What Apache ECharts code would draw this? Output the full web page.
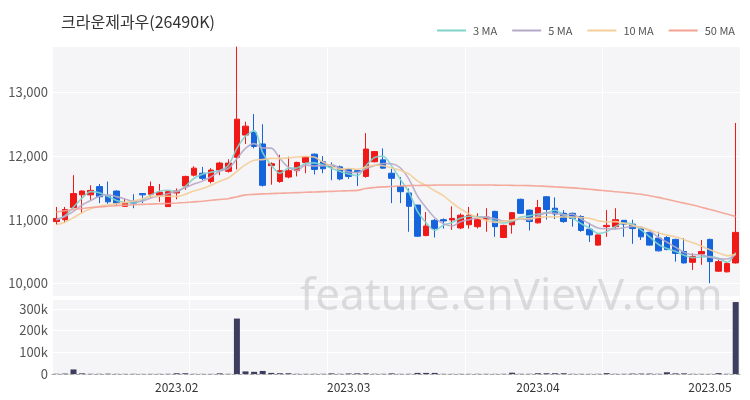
<!DOCTYPE html>
<html>
<head>
<meta charset="utf-8">
<script src="https://cdn.jsdelivr.net/npm/echarts@6/dist/echarts.min.js"></script>
<style>
html,body{margin:0;padding:0;background:#fff;}
#chart{width:750px;height:400px;}
</style>
</head>
<body>
<div id="chart"></div>
<script>
const titleText = '크라운제과우(26490K)';
const dates = [
'2023-01-10','2023-01-11','2023-01-12','2023-01-13','2023-01-16','2023-01-17','2023-01-18','2023-01-19','2023-01-20','2023-01-25',
'2023-01-26','2023-01-27','2023-01-30','2023-01-31','2023-02-01','2023-02-02','2023-02-03','2023-02-06','2023-02-07','2023-02-08',
'2023-02-09','2023-02-10','2023-02-13','2023-02-14','2023-02-15','2023-02-16','2023-02-17','2023-02-20','2023-02-21','2023-02-22',
'2023-02-23','2023-02-24','2023-02-27','2023-02-28','2023-03-02','2023-03-03','2023-03-06','2023-03-07','2023-03-08','2023-03-09',
'2023-03-10','2023-03-13','2023-03-14','2023-03-15','2023-03-16','2023-03-17','2023-03-20','2023-03-21','2023-03-22','2023-03-23',
'2023-03-24','2023-03-27','2023-03-28','2023-03-29','2023-03-30','2023-03-31','2023-04-03','2023-04-04','2023-04-05','2023-04-06',
'2023-04-07','2023-04-10','2023-04-11','2023-04-12','2023-04-13','2023-04-14','2023-04-17','2023-04-18','2023-04-19','2023-04-20',
'2023-04-21','2023-04-24','2023-04-25','2023-04-26','2023-04-27','2023-04-28','2023-05-02','2023-05-03','2023-05-04','2023-05-08'
];
const opens = [10970,11000,11190,11390,11390,11520,11370,11450,11210,11290,
 11410,11400,11380,11205,11420,11530,11700,11730,11600,11780,
 11760,11980,12330,12370,12190,11850,11600,11670,11770,11900,
 12030,11910,11850,11830,11790,11770,11680,11910,11940,11730,
 11520,11420,11230,10750,10990,11000,10995,10870,10920,10890,
 11010,11130,10720,10920,11320,11150,10950,11360,11180,11100,
 11100,11050,10850,10600,10890,10890,10990,10930,10860,10800,
 10710,10720,10690,10500,10330,10460,10690,10190,10180,10320];
const closes = [11020,11160,11410,11450,11460,11360,11280,11260,11270,11260,
 11390,11520,11430,11440,11450,11680,11810,11650,11780,11890,
 11890,12580,12470,12150,11540,11880,11770,11770,11900,11990,
 11790,11800,11830,11640,11680,11750,12110,12070,11810,11650,
 11440,11210,10740,10900,10860,10980,11020,11070,11070,11000,
 11040,10890,10910,11110,11100,10970,11190,11160,11090,10970,
 11020,10830,10760,10760,10910,11000,10930,10860,10730,10600,
 10510,10530,10470,10320,10420,10500,10340,10340,10310,10800];
const lows = [10920,10950,11180,11100,11310,11260,11250,11220,11200,11180,
 11260,11340,11280,11200,11320,11470,11680,11620,11570,11700,
 11740,11790,12190,12120,11520,11550,11580,11650,11680,11730,
 11710,11730,11620,11620,11640,11530,11660,11900,11800,11260,
 11260,10810,10730,10740,10720,10860,10840,10850,10860,10860,
 10810,10730,10710,10780,11090,10830,10940,11000,11010,10950,
 10890,10810,10650,10590,10730,10860,10730,10620,10680,10590,
 10500,10520,10340,10310,10210,10290,10000,10180,10170,10310];
const highs = [11200,11200,11700,11460,11540,11560,11600,11460,11330,11400,
 11415,11600,11560,11450,11490,11690,11840,11830,11810,11910,
 11950,13720,12540,12660,12500,11900,12020,11990,11910,12000,
 12040,12000,11900,11850,11810,11780,12360,12080,12120,11800,
 11670,11490,11230,11120,11010,11020,11210,11100,11200,11100,
 11180,11140,10920,11120,11330,11160,11310,11370,11350,11150,
 11110,11070,10950,10770,11150,11180,10990,11000,10870,10810,
 10810,10740,10700,10710,10470,10680,10700,10370,10340,12520];
const volumes = [1000,2000,21000,3000,1000,1000,1500,800,700,800,
 600,700,800,900,3500,3500,800,700,600,3000,
 800,255000,12000,10000,14000,5000,3500,3500,1000,900,
 1000,900,3000,900,2500,3000,3000,1000,900,3000,
 800,900,5000,5000,5000,800,700,800,700,900,
 800,700,900,6000,1000,900,3500,3500,3500,3500,
 900,800,700,900,4000,900,900,2000,2000,2000,
 1000,8000,3000,3000,900,800,700,4000,900,331000];
const ma3 = [11000,11060,11197,11340,11440,11423,11367,11300,11270,11263,
 11307,11390,11447,11463,11440,11523,11647,11713,11747,11773,
 11853,12120,12313,12400,12053,11857,11730,11807,11813,11887,
 11893,11860,11807,11757,11717,11690,11847,11977,11997,11843,
 11633,11433,11130,10950,10833,10913,10953,11023,11053,11047,
 11037,10977,10947,10970,11040,11060,11087,11107,11147,11073,
 11027,10940,10870,10783,10810,10890,10947,10930,10840,10730,
 10613,10547,10503,10440,10403,10413,10420,10393,10330,10483];
const ma5 = [11000,11050,11130,11230,11300,11368,11392,11362,11326,11286,
 11292,11340,11374,11408,11446,11504,11562,11606,11674,11762,
 11804,11958,12122,12196,12126,12124,11962,11822,11772,11862,
 11844,11850,11862,11810,11748,11740,11802,11850,11884,11878,
 11816,11636,11370,11188,11030,10938,10900,10966,11000,11028,
 11040,11014,10982,10990,11010,10996,11056,11106,11102,11076,
 11086,11014,10934,10868,10856,10852,10872,10892,10886,10824,
 10726,10646,10568,10486,10450,10448,10410,10384,10382,10458];
const ma10 = [10920,10960,11030,11110,11170,11210,11230,11250,11270,11293,
 11330,11366,11368,11367,11366,11398,11451,11490,11541,11604,
 11654,11760,11864,11935,11944,11964,11960,11972,11984,11994,
 11984,11906,11842,11791,11805,11792,11826,11856,11847,11813,
 11778,11719,11610,11536,11454,11377,11268,11168,11094,11029,
 10989,10957,10974,10995,11019,11018,11035,11044,11046,11043,
 11041,11035,11020,10985,10966,10969,10943,10913,10877,10840,
 10789,10759,10730,10686,10637,10587,10528,10476,10434,10454];
const ma50 = [11120,11140,11160,11175,11190,11200,11210,11220,11228,11235,
 11240,11245,11250,11255,11262,11270,11280,11290,11305,11318,
 11330,11360,11390,11398,11405,11410,11415,11420,11425,11430,
 11435,11440,11445,11450,11455,11460,11490,11505,11515,11522,
 11530,11535,11538,11541,11543,11545,11545,11546,11546,11545,
 11545,11543,11541,11539,11537,11535,11530,11523,11515,11508,
 11500,11490,11478,11465,11452,11440,11428,11415,11400,11375,
 11350,11320,11290,11260,11230,11195,11160,11125,11090,11050];
const maNames = ['3 MA','5 MA','10 MA','50 MA'];
const maColors = ['#7fd3cb','#b7a8c8','#f4cd97','#f3a292'];
const watermark = 'feature.enVievV.com';

const UP = '#f11818', DOWN = '#1564dc', VOL = '#3d3d5f';
const FONT = '"Noto Sans CJK KR", "Noto Sans", sans-serif';

const candleData = dates.map((d, i) => [opens[i], closes[i], lows[i], highs[i]]);
const monthStart = (idx) => idx === 0 ? false : dates[idx].slice(0, 7) !== dates[idx - 1].slice(0, 7);
const every16 = (idx) => idx % 16 === 0;

const chart = echarts.init(document.getElementById('chart'), null, {renderer: 'canvas'});
const maSeries = [ma3, ma5, ma10, ma50].map((arr, k) => ({
  name: maNames[k], type: 'line', xAxisIndex: 0, yAxisIndex: 0,
  data: arr, symbol: 'none', smooth: 0.3,
  lineStyle: {color: maColors[k], width: 1.6, opacity: 0.9},
  itemStyle: {color: maColors[k]},
  z: 3
}));

chart.setOption({
  animation: false,
  textStyle: {fontFamily: FONT},
  title: {
    text: titleText, left: 56, top: 9,
    textStyle: {fontSize: 16, fontWeight: 'normal', color: '#333', fontFamily: FONT}
  },
  legend: {
    data: maNames.map((n, k) => ({name: n, icon: 'rect', itemStyle: {color: maColors[k]}})),
    right: 10, top: 20, itemWidth: 29, itemHeight: 2, itemGap: 15,
    textStyle: {fontSize: 11, color: '#555', fontFamily: FONT, padding: [0, 0, 0, 2]}
  },
  grid: [
    {left: 52, right: 10, top: 46, height: 250, show: true, backgroundColor: '#f5f5f7', borderWidth: 0},
    {left: 52, right: 10, top: 299, height: 75, show: true, backgroundColor: '#f5f5f7', borderWidth: 0}
  ],
  xAxis: [
    {type: 'category', gridIndex: 0, data: dates, boundaryGap: true,
     axisLabel: {show: false}, axisTick: {show: false}, axisLine: {show: false},
     splitLine: {show: true, interval: every16, lineStyle: {color: '#ffffff', width: 1}}},
    {type: 'category', gridIndex: 1, data: dates, boundaryGap: true,
     axisTick: {show: false},
     axisLine: {show: true, lineStyle: {color: '#aaa', type: 'dashed', width: 1}},
     axisLabel: {interval: monthStart, formatter: v => v.slice(0, 7).replace('-', '.'),
                 color: '#333', fontSize: 12, margin: 7, fontFamily: FONT},
     splitLine: {show: true, interval: every16, lineStyle: {color: '#ffffff', width: 1}}}
  ],
  yAxis: [
    {type: 'value', gridIndex: 0, min: 9800, max: 13730, minInterval: 1000, maxInterval: 1000,
     axisLine: {show: false}, axisTick: {show: false},
     axisLabel: {color: '#555', fontSize: 13, margin: 4, showMinLabel: false, showMaxLabel: false,
                 formatter: v => v.toLocaleString('en-US'), fontFamily: FONT},
     splitLine: {show: true, lineStyle: {color: '#ffffff', width: 1}}},
    {type: 'value', gridIndex: 1, min: 0, max: 345000, minInterval: 100000, maxInterval: 100000,
     axisLine: {show: false}, axisTick: {show: false},
     axisLabel: {color: '#555', fontSize: 13, margin: 4, showMaxLabel: false,
                 formatter: v => v === 0 ? '0' : (v / 1000) + 'k', fontFamily: FONT},
     splitLine: {show: true, lineStyle: {color: '#ffffff', width: 1}}}
  ],
  graphic: [{
    type: 'text', left: 300, top: 275, z: 100, silent: true,
    style: {text: watermark, fontSize: 44, fontFamily: '"Noto Sans", sans-serif',
            fill: 'rgba(160,160,165,0.33)'}
  }],
  series: [
    {name: 'candle', type: 'candlestick', xAxisIndex: 0, yAxisIndex: 0, data: candleData,
     barWidth: 6,
     itemStyle: {color: UP, color0: DOWN, borderColor: UP, borderColor0: DOWN, borderWidth: 1},
     z: 2},
    ...maSeries,
    {name: 'volume', type: 'bar', xAxisIndex: 1, yAxisIndex: 1, data: volumes,
     barWidth: 6, itemStyle: {color: VOL}}
  ]
});
</script>
</body>
</html>
